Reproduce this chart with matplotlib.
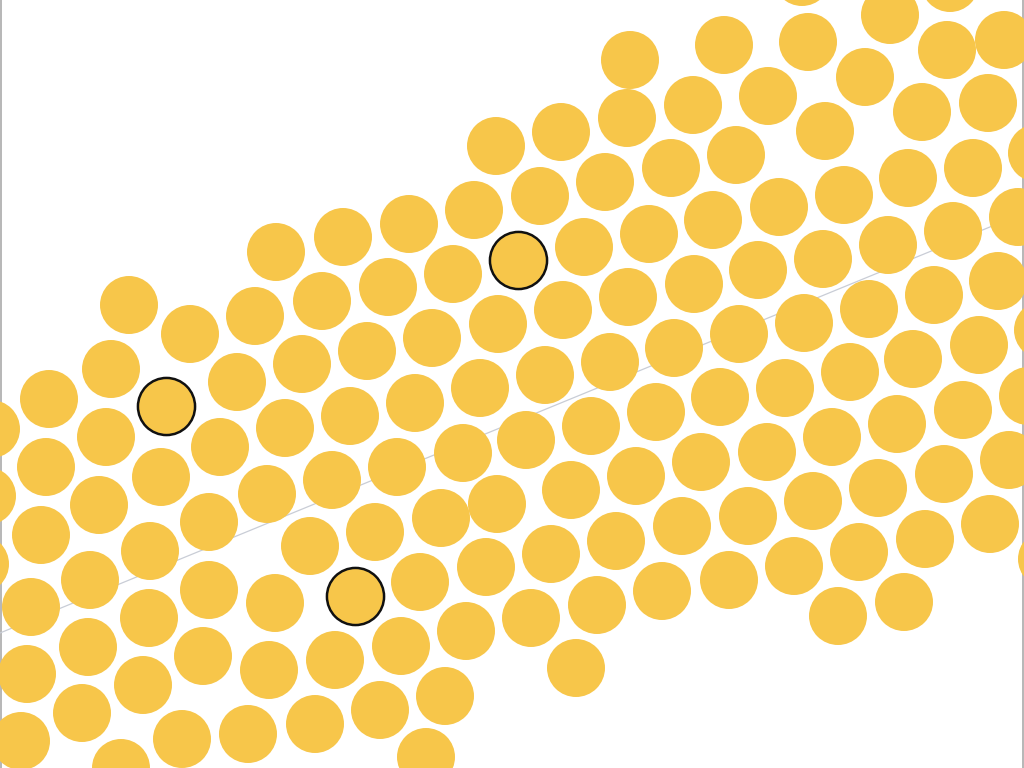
import matplotlib
matplotlib.use("Agg")
import matplotlib.pyplot as plt

# bubble centres (x, y), y grows downward
xs = [496, 474, 409, 343, 276, 129, 190, 255, 322, 388, 453, 498, 432, 367, 302,
      237, 111, 49, 415, 480, 802, 890, 950, 1004, 1048, 630, 724, 808, 865, 947,
      988, 922, 768, 825, 693, 627, 561, 1037, 973, 908, 844, 779, 736, 671, 605,
      540, 584, 649, 713, 953, 1018, 888, 823, 758, 694, 628, 563, 998, 934, 869,
      804, 739, 674, 610, 545, 1043, 979, 913, 850, 785, 720, -9, 285, 350, 463,
      397, 332, 267, 220, 161, 106, 46, -13, 99, 41, -20, 150, 209, 90, 31,
      209, 149, 88, 27, 275, 310, 375, 441, 526, 486, 420, 466, 401, 335, 269,
      203, 143, 82, 21, 445, 380, 315, 248, 182, 121, 426, 531, 656, 963, 1028,
      897, 832, 767, 701, 636, 591, 1009, 944, 878, 813, 748, 682, 616, 571, 497,
      551, 597, 662, 729, 794, 859, 925, 990, 1047, 576, 838, 904]
ys = [146, 210, 224, 237, 252, 305, 334, 316, 301, 287, 274, 324, 338, 351, 364,
      382, 369, 399, 403, 388, -23, 15, -17, 40, -18, 60, 45, 42, 77, 50,
      103, 112, 96, 131, 105, 118, 132, 153, 168, 178, 195, 207, 155, 168, 182,
      196, 247, 234, 220, 231, 217, 245, 259, 270, 284, 297, 310, 281, 295, 309,
      323, 334, 348, 362, 375, 330, 345, 359, 372, 388, 397, 429, 428, 416, 453,
      467, 480, 494, 447, 477, 437, 467, 496, 505, 535, 564, 551, 522, 580, 607,
      590, 618, 647, 674, 603, 546, 532, 518, 440, 567, 582, 631, 646, 660, 670,
      656, 685, 713, 741, 696, 710, 724, 734, 739, 768, 757, 618, 412, 410, 396,
      424, 437, 452, 462, 476, 426, 460, 474, 488, 501, 516, 526, 541, 490, 504,
      554, 605, 591, 580, 566, 552, 539, 524, 559, 668, 616, 602]

# highlighted bubbles
hl_x = [166, 518, 355]
hl_y = [406, 260, 596]

# faint trend line
trend_x = [0, 1024]
trend_y = [633, 213]

FILL = "#F7C64A"
W, H, DPI = 1024, 768, 100
R_PX = 29
size = (2 * R_PX * 72 / DPI) ** 2

fig = plt.figure(figsize=(W / DPI, H / DPI), dpi=DPI)
ax = fig.add_axes([0, 0, 1, 1])
ax.set_xlim(0, W)
ax.set_ylim(H, 0)
ax.axis("off")

ax.axvline(0.7, color="#aaaaaa", lw=1.2, zorder=0)
ax.axvline(W - 1.2, color="#aaaaaa", lw=1.2, zorder=0)
ax.plot(trend_x, trend_y, color="#c9cdd6", lw=0.9, zorder=1)

ax.scatter(xs, ys, s=size, c=FILL, edgecolors="none", zorder=2)
ax.scatter(hl_x, hl_y, s=size * 0.97, c=FILL, edgecolors="#111111",
           linewidths=1.8, zorder=3)

fig.savefig("out.png", dpi=DPI)
